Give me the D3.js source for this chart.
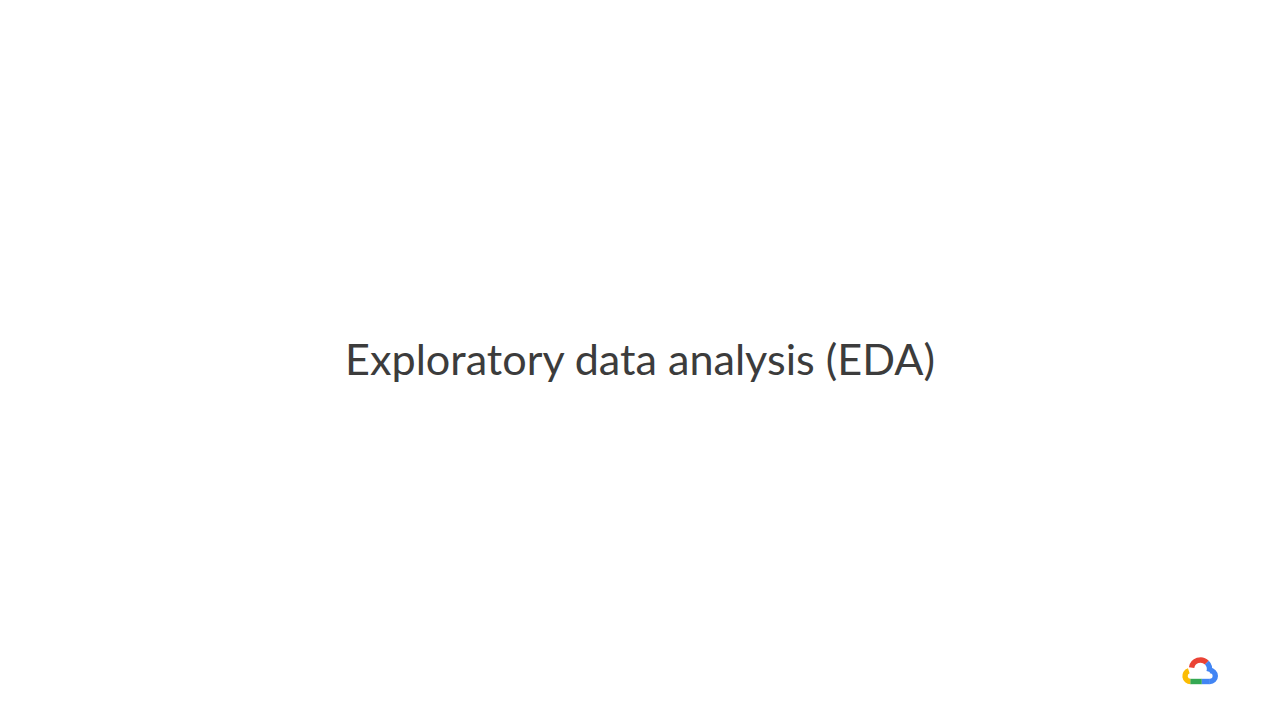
<!DOCTYPE html>
<html>
<head>
<meta charset="utf-8">
<script src="https://cdn.jsdelivr.net/npm/d3@7"></script>
<style>
	html, body { margin: 0; padding: 0; background: #ffffff; }
</style>
</head>
<body>
<div id="chart-wrapper"></div>
<script>
var titleLines = ["Exploratory data analysis (EDA)"];
var logoSegments = ["yellow", "red", "blue", "green"];
var logoColors = ["#fbbc04", "#ea4335", "#4285f4", "#34a853"];

var dimensions = {"width": 1280, "height": 720};

var svg = d3.select("#chart-wrapper").append("svg")
			.attr("width", dimensions["width"])
			.attr("height", dimensions["height"]);

svg.append("rect")
	.attr("width", dimensions["width"])
	.attr("height", dimensions["height"])
	.attr("fill", "#ffffff");

buildTitle(svg, dimensions);
buildLogo(svg);

function buildTitle(svg, dimensions){
	var title = svg.append("text")
					.attr("x", dimensions["width"] / 2)
					.attr("y", 375)
					.style("text-anchor", "middle")
					.style("font-family", "Lato, 'Open Sans', sans-serif")
					.style("font-size", "44px")
					.style("fill", "#3c3c3c")
					.text(titleLines[0]);
	// squeeze to the width the slide title takes (345 -> 935)
	var w = title.node().getComputedTextLength();
	var size = 44 * 590 / w;
	title.style("font-size", size + "px");
}

function buildLogo(svg){
	var color = d3.scaleOrdinal().domain(logoSegments).range(logoColors);
	var g = svg.append("g").attr("transform", "translate(1182,657)");
	var t = 5.4;
	var arc = d3.arc();

	function ring(cx, cy, r, a0, a1, name){
		g.append("path")
			.attr("transform", "translate(" + cx + "," + cy + ")")
			.attr("d", arc({innerRadius: r - t / 2, outerRadius: r + t / 2, startAngle: a0, endAngle: a1}))
			.attr("fill", color(name));
	}

	// left lobe
	ring(8.5, 19, 5.5, Math.PI, 1.9 * Math.PI, "yellow");
	// big top lobe
	ring(18.5, 12, 9, -0.45 * Math.PI, 0.25 * Math.PI, "red");
	ring(18.5, 12, 9, 0.25 * Math.PI, 0.6 * Math.PI, "blue");
	// right lobe
	ring(27.8, 19, 5.5, 0, Math.PI, "blue");
	// bottom
	g.append("rect").attr("x", 19.5).attr("y", 24.5 - t / 2).attr("width", 8.4).attr("height", t).attr("fill", color("blue"));
	g.append("rect").attr("x", 8.4).attr("y", 24.5 - t / 2).attr("width", 11.3).attr("height", t).attr("fill", color("green"));
}
</script>
</body>
</html>
